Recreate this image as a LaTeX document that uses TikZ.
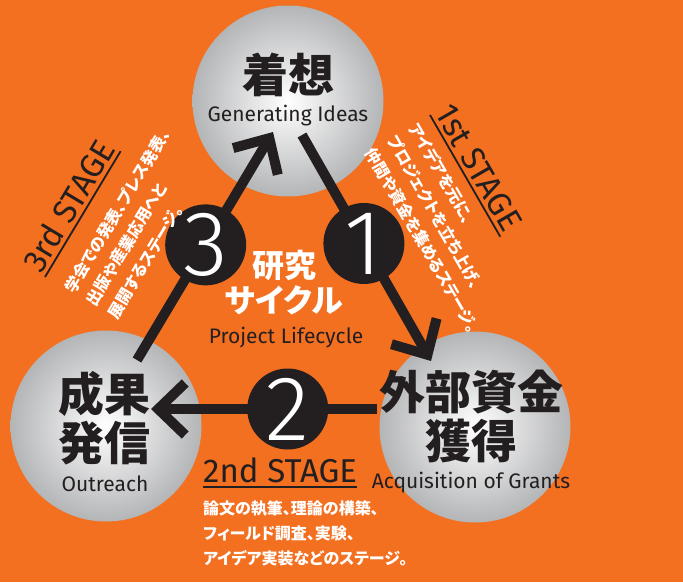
\documentclass[tikz,border=0pt]{standalone}
\usepackage{fontspec}
\setmainfont{Fira Sans}
\newfontfamily\jp[RawFeature=+palt]{Noto Sans CJK JP}
\newfontfamily\jpheavy[RawFeature=+palt]{Noto Sans CJK JP Black}
\newfontfamily\digits{Fira Sans Light}
\usetikzlibrary{arrows.meta}
\definecolor{cycleorange}{RGB}{243,112,33}
\definecolor{ink}{RGB}{35,31,32}
\definecolor{disc}{RGB}{180,181,183}

\begin{document}
\begin{tikzpicture}[x=1pt,y=-1pt,
	phase/.style={circle,minimum size=191pt,inner sep=0pt,shade,shading=radial,inner color=white,outer color=disc},
	badge/.style={circle,fill=ink,minimum size=81pt,inner sep=0pt,text=white,font=\digits\fontsize{92}{92}\selectfont},
	flow/.style={draw=ink,line width=10pt,-{Straight Barb[length=27pt,width=52pt]}},
	kanji/.style={text=ink,font=\jpheavy\fontsize{46}{49}\selectfont,align=center,inner sep=0pt},
	english/.style={text=ink,font=\fontsize{21}{21}\selectfont,inner sep=0pt},
	stagehead/.style={text=ink,font=\fontsize{33}{33}\selectfont,inner xsep=0pt,inner ysep=4pt,anchor=south west},
	stagerule/.style={draw=ink,line width=1.8pt},
	stagetext/.style={text=white,font=\jp\bfseries\fontsize{16}{25}\selectfont,align=left,inner sep=0pt,anchor=north west}]
	\fill[cycleorange] (0,0) rectangle (683,582);
	\node[phase] (ideas) at (288,101) {};
	\node[phase] (outreach) at (106,426) {};
	\node[phase] (grants) at (475,427) {};
	\coordinate (ideasout) at (302,135);
	\coordinate (grantsin) at (431,361);
	\coordinate (grantsout) at (377,409);
	\coordinate (outreachin) at (151,409);
	\coordinate (outreachout) at (137,360);
	\coordinate (ideasin) at (273,132);
	\draw[flow] (ideasout) -- node[badge,pos=.48] (one) {1} (grantsin);
	\draw[flow] (grantsout) -- node[badge,pos=.395] (two) {2} (outreachin);
	\draw[flow] (outreachout) -- node[badge,pos=.505] (three) {3} (ideasin);
	\node[kanji] (ideasjp) at (288,75) {着想};
	\node[english] (ideasen) at (288,116) {Generating Ideas};
	\node[kanji] (outreachjp) at (104,418) {成果\\発信};
	\node[english] (outreachen) at (105,484) {Outreach};
	\node[kanji] (grantsjp) at (471,416) {外部資金\\獲得};
	\node[english] (grantsen) at (471,483) {Acquisition of Grants};
	\node[text=white,font=\jpheavy\fontsize{32}{35}\selectfont,align=center,inner sep=0pt] (cyclejp) at (284,283) {研究\\サイクル};
	\node[english] (cycleen) at (286,338) {Project Lifecycle};
	\begin{scope}[shift={(430,115)},rotate=-60,transform shape]
		\node[stagehead] (first) at (0,0) {1st STAGE};
		\draw[stagerule] (first.south west) -- (first.south east);
		\node[stagetext] (firsttext) at (0,11) {アイデアを元に、\\プロジェクトを立ち上げ、\\仲間や資金を集めるステージ。};
	\end{scope}
	\begin{scope}[shift={(203,487)}]
		\node[stagehead] (second) at (0,0) {2nd STAGE};
		\draw[stagerule] (second.south west) -- (second.south east);
		\node[stagetext] (secondtext) at (0,13) {論文の執筆、理論の構築、\\フィールド調査、実験、\\アイデア実装などのステージ。};
	\end{scope}
	\begin{scope}[shift={(45,277)},rotate=59,transform shape]
		\node[stagehead] (third) at (0,0) {3rd STAGE};
		\draw[stagerule] (third.south west) -- (third.south east);
		\node[stagetext] (thirdtext) at (0,20) {学会での発表、プレス発表、\\出版や産業応用へと\\展開するステージ。};
	\end{scope}
\end{tikzpicture}
\end{document}
